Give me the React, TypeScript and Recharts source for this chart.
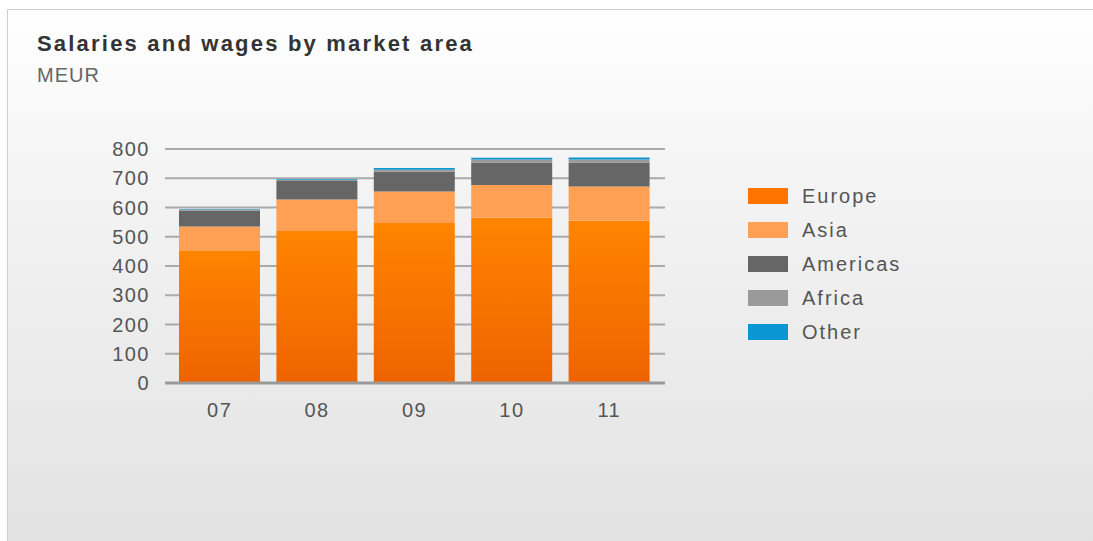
import React from 'react';
import { BarChart, Bar, XAxis, YAxis, CartesianGrid } from 'recharts';

// Salaries and wages by market area, MEUR
const years = ['07', '08', '09', '10', '11'];
const europe = [451, 520, 547, 565, 555];
const asia = [84, 107, 108, 112, 117];
const americas = [55, 64, 68, 77, 82];
const africa = [3, 3, 6, 10, 10];
const other = [2, 3, 6, 6, 7];
const yTicks = [0, 100, 200, 300, 400, 500, 600, 700, 800];

const seriesList = [
  { key: 'europe', name: 'Europe', color: 'url(#europeFill)', swatch: '#ff7300' },
  { key: 'asia', name: 'Asia', color: '#ffa054', swatch: '#ffa054' },
  { key: 'americas', name: 'Americas', color: '#666666', swatch: '#666666' },
  { key: 'africa', name: 'Africa', color: '#9a9a9a', swatch: '#9a9a9a' },
  { key: 'other', name: 'Other', color: '#0a96d2', swatch: '#0a96d2' }
];

const data = years.map((year, i) => ({
  year,
  europe: europe[i],
  asia: asia[i],
  americas: americas[i],
  africa: africa[i],
  other: other[i]
}));

const font = '"Liberation Sans", Arial, sans-serif';

// legend drawn as plain html, next to the plot
const LegendBox = () => (
  <div style={{ position: 'absolute', left: 748, top: 179 }}>
    {seriesList.map(s => (
      <div key={s.key} style={{ display: 'flex', alignItems: 'center', height: 34 }}>
        <div style={{ width: 40, height: 16, background: s.swatch, marginRight: 14 }} />
        <span style={{ fontSize: 20, letterSpacing: 2, color: '#555' }}>{s.name}</span>
      </div>
    ))}
  </div>
);

export default function App() {
  return (
    <div style={{ position: 'absolute', left: 0, top: 0, width: 1093, height: 541, overflow: 'hidden', fontFamily: font }}>
      <div style={{
        position: 'absolute',
        left: 7,
        top: 9,
        width: 1090,
        height: 540,
        border: '1px solid #cfcfcf',
        background: 'linear-gradient(#ffffff, #f4f4f4 30%, #e2e2e2)'
      }} />
      <div style={{ position: 'absolute', left: 37, top: 31, fontSize: 22, fontWeight: 'bold', color: '#333', letterSpacing: 2.2 }}>
        Salaries and wages by market area
      </div>
      <div style={{ position: 'absolute', left: 37, top: 64, fontSize: 20, color: '#666', letterSpacing: 1 }}>
        MEUR
      </div>
      <div style={{ position: 'absolute', left: 0, top: 0 }}>
        <BarChart
          width={1093}
          height={541}
          data={data}
          margin={{ top: 149, right: 428, bottom: 128, left: 105 }}
        >
          <defs>
            <linearGradient id="europeFill" x1="0" y1="0" x2="0" y2="1">
              <stop offset="0%" stopColor="#ff8500" />
              <stop offset="100%" stopColor="#ee6300" />
            </linearGradient>
          </defs>
          <CartesianGrid vertical={false} stroke="#aaaaaa" strokeWidth={2} />
          <XAxis
            dataKey="year"
            height={30}
            padding={{ left: 6, right: 7 }}
            tickLine={false}
            tickSize={0}
            tickMargin={20}
            axisLine={{ stroke: '#999', strokeWidth: 3 }}
            tick={{ fill: '#555', fontSize: 20, letterSpacing: 1.5 }}
          />
          <YAxis
            width={60}
            domain={[0, 800]}
            ticks={yTicks}
            axisLine={false}
            tickLine={false}
            tickSize={0}
            tickMargin={15}
            tick={{ fill: '#555', fontSize: 20, letterSpacing: 1.5 }}
          />
          {seriesList.map(s => (
            <Bar
              key={s.key}
              dataKey={s.key}
              name={s.name}
              stackId="a"
              fill={s.color}
              barSize={81}
              isAnimationActive={false}
            />
          ))}
        </BarChart>
      </div>
      <LegendBox />
    </div>
  );
}
